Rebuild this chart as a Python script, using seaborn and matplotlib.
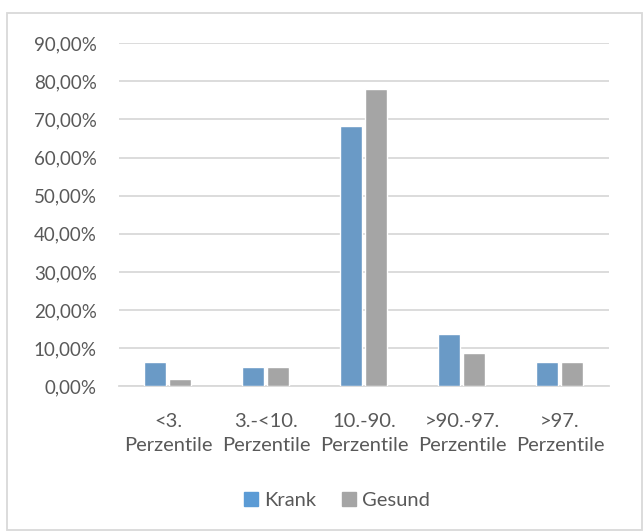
import matplotlib.pyplot as plt
import matplotlib.patches as mpatches
import pandas as pd
import seaborn as sns
from matplotlib.ticker import FuncFormatter

categories = ['<3.\nPerzentile', '3.-<10.\nPerzentile', '10.-90.\nPerzentile',
              '>90.-97.\nPerzentile', '>97.\nPerzentile']
krank = [6.3, 5.0, 68.2, 13.8, 6.3]
gesund = [1.9, 5.1, 77.9, 8.7, 6.3]

df = pd.DataFrame({
    'Kategorie': categories * 2,
    'Wert': krank + gesund,
    'Gruppe': ['Krank'] * 5 + ['Gesund'] * 5,
})

sns.set_style('white')
plt.rcParams['font.family'] = ['Lato', 'DejaVu Sans']
text_col = '#595959'

fig = plt.figure(figsize=(6.43, 5.32), dpi=100)
ax = fig.add_axes([0.185, 0.2735, 0.762, 0.6455])

sns.barplot(data=df, x='Kategorie', y='Wert', hue='Gruppe',
            palette={'Krank': '#5B9BD5', 'Gesund': '#A5A5A5'},
            width=0.51, gap=0.12, ax=ax, legend=False, zorder=3)

ax.set_ylim(0, 90)
ax.set_yticks(range(0, 91, 10))
ax.yaxis.set_major_formatter(FuncFormatter(lambda v, p: f'{v:.2f}%'.replace('.', ',')))
ax.set_xlim(-0.5, 4.5)
ax.grid(axis='y', color='#D9D9D9', linewidth=1.3, zorder=0)
ax.set_axisbelow(True)
for s in ['top', 'right', 'left']:
    ax.spines[s].set_visible(False)
ax.spines['bottom'].set_color('#D9D9D9')
ax.spines['bottom'].set_linewidth(1.3)
ax.tick_params(axis='y', length=0, labelsize=13.5, colors=text_col, pad=16)
ax.tick_params(axis='x', length=0, labelsize=14.5, colors=text_col, pad=19)
for lbl in ax.get_xticklabels():
    lbl.set_linespacing(1.5)
ax.set_xlabel('')
ax.set_ylabel('')

handles = [mpatches.Patch(color='#5B9BD5', label='Krank'),
           mpatches.Patch(color='#A5A5A5', label='Gesund')]
fig.legend(handles=handles, loc='center', bbox_to_anchor=(0.524, 0.06), ncol=2,
           frameon=False, fontsize=14.5, labelcolor=text_col,
           handlelength=0.7, handleheight=0.7, handletextpad=0.3, columnspacing=1.3)

fig.patches.append(mpatches.Rectangle((0.011, 0.004), 0.987, 0.972, transform=fig.transFigure,
                                      fill=False, edgecolor='#D9D9D9', linewidth=1.3))

fig.savefig('out.png', dpi=100)
